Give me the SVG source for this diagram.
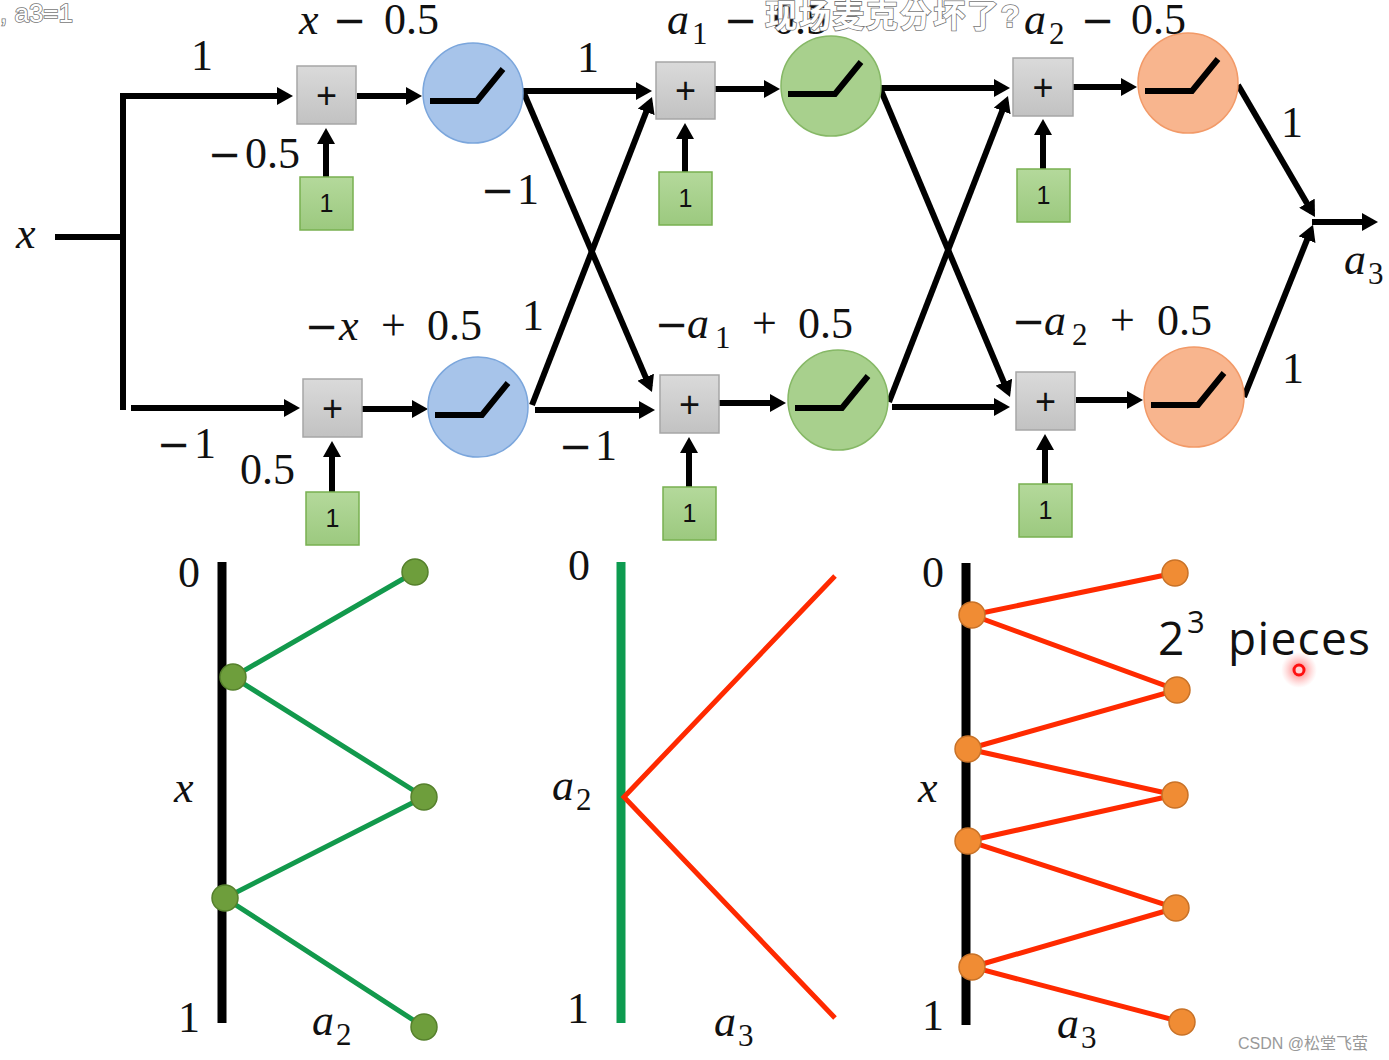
<svg xmlns="http://www.w3.org/2000/svg" width="1389" height="1060" viewBox="0 0 1389 1060">
<style>
.m{font-family:"Liberation Serif","DejaVu Serif",serif;font-size:44px;fill:#111}
.i{font-style:italic}
.sub{font-size:31px}
.mn{font-family:"DejaVu Sans","Liberation Sans",sans-serif;font-size:40px}
.pb{fill:url(#gGray);stroke:#a6a6a6;stroke-width:1.5}
.bb{fill:url(#gGreen);stroke:#78b050;stroke-width:1.5}
.pt{font-family:"Liberation Sans",Arial,sans-serif;font-size:36px;fill:#111;text-anchor:middle}
.bt{font-family:"Liberation Sans",Arial,sans-serif;font-size:25px;fill:#111;text-anchor:middle}
.blue{fill:#a7c4ea;stroke:#7ba6dc;stroke-width:1.5}
.green{fill:#a8d08d;stroke:#86b866;stroke-width:1.5}
.orange{fill:#f8b58e;stroke:#f29a68;stroke-width:1.5}
.relu{fill:none;stroke:#000;stroke-width:6}
.c{fill:none;stroke:#000;stroke-width:6}
.a{fill:none;stroke:#000;stroke-width:6;marker-end:url(#arr)}
.gl{fill:none;stroke:#12994c;stroke-width:5}
.rl{fill:none;stroke:#ff2a00;stroke-width:5;stroke-linejoin:miter}
.gd{fill:#6e9e3c;stroke:#55802c;stroke-width:1.5}
.od{fill:#f08c34;stroke:#c87228;stroke-width:1.5}
.ov{font-family:"Liberation Sans","Noto Sans CJK SC",sans-serif;fill:#fff;stroke:#777;stroke-width:1.6;paint-order:stroke}
</style>
<defs>
<marker id="arr" viewBox="0 0 16 18" markerWidth="16" markerHeight="18" refX="10.5" refY="9" orient="auto" markerUnits="userSpaceOnUse">
<path d="M0,0 L16,9 L0,18 z" fill="#000"/>
</marker>
<linearGradient id="gGray" x1="0" y1="0" x2="0" y2="1"><stop offset="0" stop-color="#dadada"/><stop offset="1" stop-color="#c2c2c2"/></linearGradient>
<linearGradient id="gGreen" x1="0" y1="0" x2="0" y2="1"><stop offset="0" stop-color="#b4d99b"/><stop offset="1" stop-color="#9cc97f"/></linearGradient>
<radialGradient id="glow"><stop offset="0" stop-color="#ff3030" stop-opacity="0.7"/><stop offset="0.5" stop-color="#ff5050" stop-opacity="0.35"/><stop offset="1" stop-color="#ff8080" stop-opacity="0"/></radialGradient>
<path id="reluP" d="M-43,8 L4,8 L30,-24"/>
</defs>
<rect width="1389" height="1060" fill="#fff"/>

<g id="connectors">
<path class="c" d="M55,237 H123"/>
<path class="a" d="M123,410 V96 H287.5"/>
<path class="a" d="M131,408 H294.5"/>
<path class="a" d="M357,96 H416.5"/>
<path class="a" d="M326,177 V133.5"/>
<path class="a" d="M362,409 H422.5"/>
<path class="a" d="M332,492 V446.5"/>
<path class="a" d="M523,91 H646.5"/>
<path class="a" d="M523,91 L649.8,386.9"/>
<path class="a" d="M532,405 L650,102.1"/>
<path class="a" d="M535,410 H649.5"/>
<path class="a" d="M715,89 H774.5"/>
<path class="a" d="M685,172 V128.5"/>
<path class="a" d="M719,403 H780.5"/>
<path class="a" d="M689,487 V442.5"/>
<path class="a" d="M880,88 H1004.5"/>
<path class="a" d="M880,88 L1007.9,391.9"/>
<path class="a" d="M889,402 L1006,101.1"/>
<path class="a" d="M892,407 H1004.5"/>
<path class="a" d="M1073,87 H1131.5"/>
<path class="a" d="M1043,169 V124.5"/>
<path class="a" d="M1076,400 H1137.5"/>
<path class="a" d="M1045,484 V439.5"/>
<path class="a" d="M1238,85 L1312.2,212.2"/>
<path class="a" d="M1244,397 L1311,229.9"/>
<path class="a" d="M1312,222 H1372.5"/>
</g>

<g id="sum1"><rect class="pb" x="297" y="66" width="59" height="58"/><text class="pt" x="326.5" y="108">+</text></g>
<g id="sum2"><rect class="pb" x="656" y="62" width="59" height="57"/><text class="pt" x="685.5" y="103">+</text></g>
<g id="sum3"><rect class="pb" x="1013" y="58" width="60" height="58"/><text class="pt" x="1043" y="100">+</text></g>
<g id="sum4"><rect class="pb" x="303" y="379" width="59" height="58"/><text class="pt" x="332.5" y="421">+</text></g>
<g id="sum5"><rect class="pb" x="660" y="375" width="59" height="58"/><text class="pt" x="689.5" y="417">+</text></g>
<g id="sum6"><rect class="pb" x="1016" y="372" width="59" height="58"/><text class="pt" x="1045.5" y="414">+</text></g>

<g id="bias1"><rect class="bb" x="300" y="177" width="53" height="53"/><text class="bt" x="326.5" y="212">1</text></g>
<g id="bias2"><rect class="bb" x="659" y="172" width="53" height="53"/><text class="bt" x="685.5" y="207">1</text></g>
<g id="bias3"><rect class="bb" x="1017" y="169" width="53" height="53"/><text class="bt" x="1043.5" y="204">1</text></g>
<g id="bias4"><rect class="bb" x="306" y="492" width="53" height="53"/><text class="bt" x="332.5" y="527">1</text></g>
<g id="bias5"><rect class="bb" x="663" y="487" width="53" height="53"/><text class="bt" x="689.5" y="522">1</text></g>
<g id="bias6"><rect class="bb" x="1019" y="484" width="53" height="53"/><text class="bt" x="1045.5" y="519">1</text></g>

<g id="relu1"><circle class="blue" cx="473" cy="93" r="50"/><use href="#reluP" class="relu" x="473" y="93"/></g>
<g id="relu2"><circle class="green" cx="831" cy="86" r="50"/><use href="#reluP" class="relu" x="831" y="86"/></g>
<g id="relu3"><circle class="orange" cx="1188" cy="83" r="50"/><use href="#reluP" class="relu" x="1188" y="83"/></g>
<g id="relu4"><circle class="blue" cx="478" cy="407" r="50"/><use href="#reluP" class="relu" x="478" y="407"/></g>
<g id="relu5"><circle class="green" cx="838" cy="400" r="50"/><use href="#reluP" class="relu" x="838" y="400"/></g>
<g id="relu6"><circle class="orange" cx="1194" cy="397" r="50"/><use href="#reluP" class="relu" x="1194" y="397"/></g>

<g id="labels">
<text class="m i" x="16" y="248">x</text>
<text class="m" y="34"><tspan class="i" x="299">x</tspan><tspan class="mn" x="333">−</tspan><tspan x="384">0.5</tspan></text>
<text class="m" y="34"><tspan class="i" x="667">a</tspan><tspan class="sub" x="692" dy="10">1</tspan><tspan class="mn" x="724" dy="-10">−</tspan><tspan x="773">0.5</tspan></text>
<text class="m" y="34"><tspan class="i" x="1024">a</tspan><tspan class="sub" x="1049" dy="10">2</tspan><tspan class="mn" x="1081" dy="-10">−</tspan><tspan x="1131">0.5</tspan></text>
<text class="m" y="340"><tspan class="mn" x="305">−</tspan><tspan class="i" x="339">x</tspan><tspan x="381">+</tspan><tspan x="427">0.5</tspan></text>
<text class="m" y="338"><tspan class="mn" x="655">−</tspan><tspan class="i" x="687">a</tspan><tspan class="sub" x="715" dy="10">1</tspan><tspan x="752" dy="-10">+</tspan><tspan x="798">0.5</tspan></text>
<text class="m" y="335"><tspan class="mn" x="1012">−</tspan><tspan class="i" x="1044">a</tspan><tspan class="sub" x="1072" dy="10">2</tspan><tspan x="1110" dy="-10">+</tspan><tspan x="1157">0.5</tspan></text>
<text class="m" x="202" y="70" text-anchor="middle">1</text>
<text class="m" y="168"><tspan class="mn" x="208">−</tspan><tspan x="245">0.5</tspan></text>
<text class="m" y="204"><tspan class="mn" x="481">−</tspan><tspan x="517">1</tspan></text>
<text class="m" x="588" y="72" text-anchor="middle">1</text>
<text class="m" x="533" y="330" text-anchor="middle">1</text>
<text class="m" y="458"><tspan class="mn" x="157">−</tspan><tspan x="194">1</tspan></text>
<text class="m" x="240" y="484">0.5</text>
<text class="m" y="460"><tspan class="mn" x="559">−</tspan><tspan x="595">1</tspan></text>
<text class="m" x="1292" y="137" text-anchor="middle">1</text>
<text class="m" x="1293" y="383" text-anchor="middle">1</text>
<text class="m" y="274"><tspan class="i" x="1344">a</tspan><tspan class="sub" x="1368" dy="10">3</tspan></text>
</g>

<g id="plot1">
<line x1="222" y1="562" x2="222" y2="1023" stroke="#000" stroke-width="9"/>
<polyline class="gl" points="415,572 233,677 424,797 225,898 424,1027"/>
<circle class="gd" cx="415" cy="572" r="13"/>
<circle class="gd" cx="233" cy="677" r="13"/>
<circle class="gd" cx="424" cy="797" r="13"/>
<circle class="gd" cx="225" cy="898" r="13"/>
<circle class="gd" cx="424" cy="1027" r="13"/>
<text class="m" x="178" y="587">0</text>
<text class="m i" x="174" y="802">x</text>
<text class="m" x="178" y="1032">1</text>
<text class="m" y="1035"><tspan class="i" x="312">a</tspan><tspan class="sub" x="336" dy="10">2</tspan></text>
</g>

<g id="plot2">
<line x1="621" y1="562" x2="621" y2="1023" stroke="#0d9b50" stroke-width="9"/>
<polyline class="rl" points="835,576 624,797 835,1018"/>
<text class="m" x="568" y="580">0</text>
<text class="m" y="800"><tspan class="i" x="552">a</tspan><tspan class="sub" x="576" dy="10">2</tspan></text>
<text class="m" x="567" y="1023">1</text>
<text class="m" y="1036"><tspan class="i" x="714">a</tspan><tspan class="sub" x="738" dy="10">3</tspan></text>
</g>

<g id="plot3">
<line x1="966" y1="563" x2="966" y2="1025" stroke="#000" stroke-width="9"/>
<polyline class="rl" points="1175,573 972,615 1177,690 968,749 1175,795 968,841 1176,908 972,967 1182,1022"/>
<circle class="od" cx="1175" cy="573" r="13"/>
<circle class="od" cx="1177" cy="690" r="13"/>
<circle class="od" cx="1175" cy="795" r="13"/>
<circle class="od" cx="1176" cy="908" r="13"/>
<circle class="od" cx="1182" cy="1022" r="13"/>
<circle class="od" cx="972" cy="615" r="13"/>
<circle class="od" cx="968" cy="749" r="13"/>
<circle class="od" cx="968" cy="841" r="13"/>
<circle class="od" cx="972" cy="967" r="13"/>
<text class="m" x="922" y="587">0</text>
<text class="m i" x="918" y="802">x</text>
<text class="m" x="922" y="1030">1</text>
<text class="m" y="1038"><tspan class="i" x="1057">a</tspan><tspan class="sub" x="1081" dy="10">3</tspan></text>
<text y="655" font-family="'Open Sans','Liberation Sans',sans-serif" font-size="46" fill="#111"><tspan x="1158">2</tspan><tspan x="1187" font-size="31" dy="-22">3</tspan><tspan dy="22" x="1228" textLength="142">pieces</tspan></text>
</g>

<g id="pointer">
<circle cx="1299" cy="670" r="18" fill="url(#glow)"/>
<circle cx="1299" cy="670" r="5" fill="#ffd0d0" stroke="#ff1010" stroke-width="3"/>
</g>

<g id="overlay">
<text class="ov" x="765" y="27" font-size="32" textLength="255" font-weight="bold">现场麦克分坏了?</text>
<text class="ov" x="0" y="22" font-size="26">, a3=1</text>
<text x="1238" y="1049" font-family="'Liberation Sans','Noto Sans CJK SC',sans-serif" font-size="16" fill="#999">CSDN @松堂飞萤</text>
</g>
</svg>
